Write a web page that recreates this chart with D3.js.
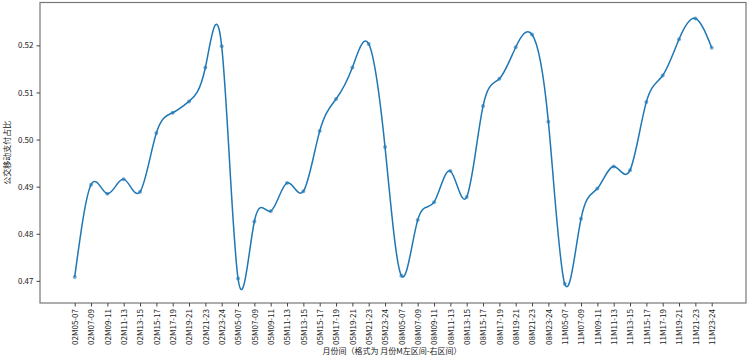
<!DOCTYPE html>
<html>
<head>
<meta charset="utf-8">
<script src="https://cdn.jsdelivr.net/npm/d3@7"></script>
<style>
  body { margin: 0; background: #fff; }
  svg text { font-family: 'Noto Sans CJK SC', 'Noto Sans', sans-serif; fill: #222; }
</style>
</head>
<body>
<div id="chart"></div>
<script>
// periods: year prefix + month range
const years = ['02', '05', '08', '11']
const ranges = ['05-07', '07-09', '09-11', '11-13', '13-15', '15-17', '17-19', '19-21', '21-23', '23-24']
const categories = years.flatMap(y => ranges.map(r => `${y}M${r}`))

const shareValues = [
  0.4708, 0.4904, 0.4885, 0.4916, 0.4889, 0.5014, 0.5057, 0.5081, 0.5153, 0.5198,
  0.4705, 0.4826, 0.4848, 0.4908, 0.4890, 0.5018, 0.5086, 0.5153, 0.5203, 0.4984,
  0.4711, 0.4829, 0.4867, 0.4933, 0.4878, 0.5071, 0.5129, 0.5196, 0.5223, 0.5038,
  0.4694, 0.4832, 0.4896, 0.4943, 0.4935, 0.5080, 0.5136, 0.5213, 0.5257, 0.5195,
]
const yTicks = [0.47, 0.48, 0.49, 0.50, 0.51, 0.52]

const xLabel = '月份间（格式为 月份M左区间-右区间）'
const yLabel = '公交移动支付占比'

const width = 748
const height = 359
const plot = { left: 40, top: 2.5, right: 746, bottom: 303 }

const svg = d3.select('#chart')
  .append('svg')
  .attr('width', width)
  .attr('height', height)

const data = categories.map((c, i) => ({ c, v: shareValues[i] }))

const xScale = d3.scalePoint()
  .domain(categories)
  .range([74.7, 711.7])

const yScale = d3.scaleLinear()
  .domain([0.4653, 0.5291])
  .range([plot.bottom, plot.top])

// frame
svg.append('rect')
  .attr('x', plot.left)
  .attr('y', plot.top)
  .attr('width', plot.right - plot.left)
  .attr('height', plot.bottom - plot.top)
  .attr('fill', 'none')
  .attr('stroke', '#777')
  .attr('stroke-width', 1.2)

const xAxis = svg.append('g')
  .attr('transform', `translate(0,${plot.bottom})`)
  .call(d3.axisBottom(xScale).tickSize(3.5).tickPadding(2))
xAxis.select('.domain').remove()
xAxis.selectAll('line').attr('stroke', '#444')
xAxis.selectAll('text')
  .attr('font-size', 8)
  .attr('transform', 'rotate(-90)')
  .attr('text-anchor', 'end')
  .attr('dy', '0.35em')
  .attr('x', -6)
  .attr('y', 0)

const yAxis = svg.append('g')
  .attr('transform', `translate(${plot.left},0)`)
  .call(d3.axisLeft(yScale).tickValues(yTicks).tickFormat(d3.format('.2f')).tickSize(3.5).tickPadding(3))
yAxis.select('.domain').remove()
yAxis.selectAll('line').attr('stroke', '#444')
yAxis.selectAll('text').attr('font-size', 8)

const line = d3.line()
  .x(d => xScale(d.c))
  .y(d => yScale(d.v))
  .curve(d3.curveNatural)

svg.append('path')
  .datum(data)
  .attr('d', line)
  .attr('fill', 'none')
  .attr('stroke', '#1f77b4')
  .attr('stroke-width', 1.5)

svg.append('g')
  .selectAll('circle')
  .data(data)
  .join('circle')
  .attr('cx', d => xScale(d.c))
  .attr('cy', d => yScale(d.v))
  .attr('r', 2)
  .attr('fill', '#1f77b4')
  .attr('fill-opacity', 0.6)

svg.append('text')
  .attr('x', 392)
  .attr('y', 354)
  .attr('text-anchor', 'middle')
  .attr('font-size', 8)
  .text(xLabel)

svg.append('text')
  .attr('transform', `translate(10,${(plot.top + plot.bottom) / 2}) rotate(-90)`)
  .attr('text-anchor', 'middle')
  .attr('font-size', 8)
  .text(yLabel)
</script>
</body>
</html>
